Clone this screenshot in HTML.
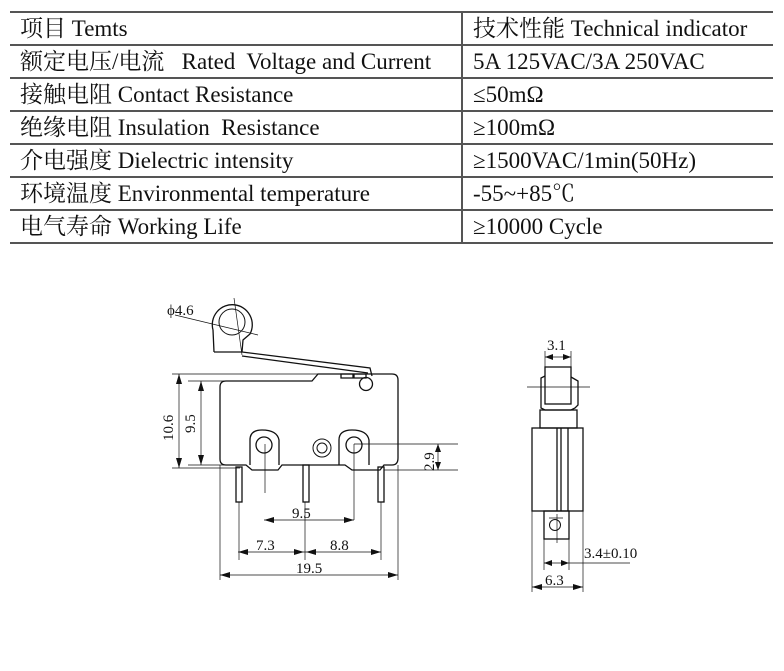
<!DOCTYPE html>
<html><head><meta charset="utf-8"><style>
body{margin:0;background:#fff;width:784px;height:671px;overflow:hidden;position:relative;font-family:"Liberation Serif","Noto Serif CJK SC",serif;}
.t{position:absolute;font-size:23px;color:#111;white-space:nowrap;line-height:33px;}
.h{position:absolute;background:#555;}
</style></head><body>
<div class="h" style="left:10px;top:11px;width:763px;height:2px"></div>
<div class="h" style="left:10px;top:44px;width:763px;height:2px"></div>
<div class="h" style="left:10px;top:77px;width:763px;height:2px"></div>
<div class="h" style="left:10px;top:110px;width:763px;height:2px"></div>
<div class="h" style="left:10px;top:143px;width:763px;height:2px"></div>
<div class="h" style="left:10px;top:176px;width:763px;height:2px"></div>
<div class="h" style="left:10px;top:209px;width:763px;height:2px"></div>
<div class="h" style="left:10px;top:242px;width:763px;height:2px"></div>
<div class="h" style="left:461px;top:12px;width:2px;height:231px"></div>
<div class="t" style="left:20px;top:12px">项目 Temts</div>
<div class="t" style="left:473px;top:12px">技术性能 Technical indicator</div>
<div class="t" style="left:20px;top:45px">额定电压/电流&nbsp;&nbsp; Rated&nbsp; Voltage and Current</div>
<div class="t" style="left:473px;top:45px">5A 125VAC/3A 250VAC</div>
<div class="t" style="left:20px;top:78px">接触电阻 Contact Resistance</div>
<div class="t" style="left:473px;top:78px">≤50mΩ</div>
<div class="t" style="left:20px;top:111px">绝缘电阻 Insulation&nbsp; Resistance</div>
<div class="t" style="left:473px;top:111px">≥100mΩ</div>
<div class="t" style="left:20px;top:144px">介电强度 Dielectric intensity</div>
<div class="t" style="left:473px;top:144px">≥1500VAC/1min(50Hz)</div>
<div class="t" style="left:20px;top:177px">环境温度 Environmental temperature</div>
<div class="t" style="left:473px;top:177px">-55~+85℃</div>
<div class="t" style="left:20px;top:210px">电气寿命 Working Life</div>
<div class="t" style="left:473px;top:210px">≥10000 Cycle</div>
<svg width="784" height="671" style="position:absolute;left:0;top:0" font-family="Liberation Serif,serif" font-size="15" fill="none" stroke="#111">
<g stroke-width="1.3">
<path d="M214,352 L213,330 A20,20 0 1 1 250,334 L243,340 L242,352"/>
<circle cx="232" cy="322" r="13" stroke-width="1"/>
<path d="M214,352 L242,352 L370,368 L372,376 M242,356 L368,373"/>
<path d="M341,374h12v4h-12zM354,374h12v4h-12z"/>
<path d="M226,381 L312,381 L318,374 L392,374 Q398,374 398,380 L398,458 Q398,465 392,465 L384,465 L380,470 L352,470 L345,465 L282,465 L278,470 L252,470 L246,465 L226,465 Q220,465 220,459 L220,387 Q220,381 226,381Z"/>
<circle cx="366" cy="384" r="6.5"/>
<path d="M250,465 L250,440 Q250,430 262,430 Q277,430 279,440 L279,465"/>
<circle cx="264" cy="445" r="8"/>
<path d="M339,465 L339,440 Q339,430 352,430 Q367,430 369,440 L369,465"/>
<circle cx="354" cy="445" r="8"/>
<circle cx="322" cy="448" r="9" stroke-width="1"/><circle cx="322" cy="448" r="5" stroke-width="1"/>
<rect x="236" y="467" width="6" height="35"/><rect x="303" y="465" width="6" height="37"/><rect x="378" y="467" width="6" height="35"/>
</g>
<g stroke-width="0.7">
<path d="M172,374H318M188,381H226M188,465H226M172,468H240M354,444H458M384,470H458M265,444V493M354,444V520M239,502V560M305,502V560M381,502V560M220,465V580M398,465V580M234,298L242,355M175,315L258,335"/>
<path d="M179,374V468M201,381V465M438,444V470M264,520H354M238,552H381M220,575H398"/>
</g>
<g fill="#111" stroke="none">
<path d="M179,374l-3,10h6zM179,468l-3,-10h6zM201,381l-3,10h6zM201,465l-3,-10h6zM438,444l-3,8h6zM438,470l-3,-8h6z"/>
<path d="M264,520l10,-3v6zM354,520l-10,-3v6zM238,552l10,-3v6zM304,552l-10,-3v6zM306,552l10,-3v6zM381,552l-10,-3v6zM220,575l10,-3v6zM398,575l-10,-3v6z"/>
<path d="M545,357l8,-3v6zM571,357l-8,-3v6zM544,563l8,-3v6zM569,563l-8,-3v6zM532,587l10,-3v6zM583,587l-10,-3v6z"/>
<text x="167" y="315">ϕ4.6</text>
<text x="292" y="518">9.5</text>
<text x="256" y="550">7.3</text>
<text x="330" y="550">8.8</text>
<text x="296" y="573">19.5</text>
<text transform="translate(173,441) rotate(-90)">10.6</text>
<text transform="translate(195,433) rotate(-90)">9.5</text>
<text transform="translate(434,471) rotate(-90)">2.9</text>
<text x="547" y="350">3.1</text>
<text x="584" y="558">3.4±0.10</text>
<text x="545" y="585">6.3</text>
</g>
<g stroke-width="1.3">
<rect x="545" y="367" width="26" height="37"/>
<path d="M545,376 L541,378 L541,408 L545,410 L571,410 L575,408 L578,405 L578,381 L571,377"/>
<rect x="540" y="410" width="37" height="18"/>
<rect x="532" y="428" width="51" height="83"/>
<path d="M557,428V511M561,428V511M568,428V511"/>
<rect x="544" y="511" width="25" height="28"/>
<circle cx="555" cy="525" r="5.5" stroke-width="1"/>
</g>
<g stroke-width="0.7">
<path d="M527,387H590M545,351V367M571,351V367M549,518H563M557,514V543M544,539V570M569,539V570M532,511V592M583,511V592M569,563H630M545,357H571M544,563H569M532,587H583"/>
</g>
</svg>
</body></html>
